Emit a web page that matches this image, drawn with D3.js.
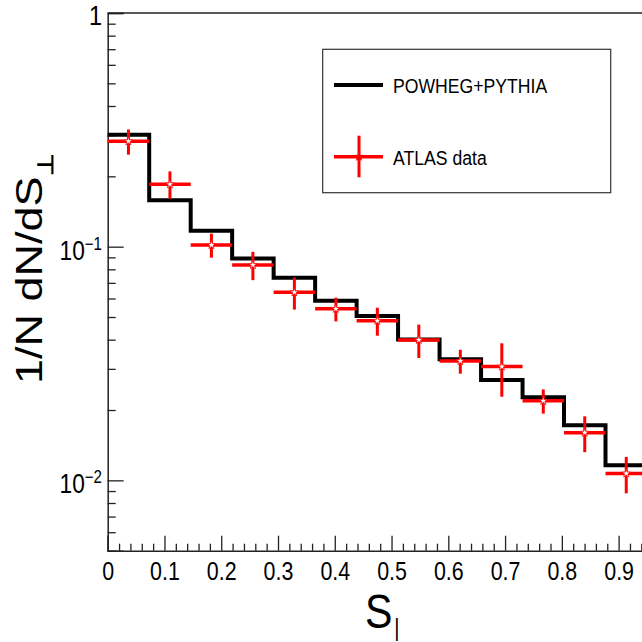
<!DOCTYPE html>
<html>
<head>
<meta charset="utf-8">
<script src="https://cdn.jsdelivr.net/npm/d3@7"></script>
<style>
  body { margin: 0; background: #fff; }
  svg { display: block; font-family: "Liberation Sans", Arial, Helvetica, sans-serif; }
</style>
</head>
<body>
<script>
// bin edges in S_| (13 bins)
var binEdges = [0, 0.0731, 0.1462, 0.2192, 0.2923, 0.3654, 0.4385, 0.5115, 0.5846, 0.6577, 0.7308, 0.8038, 0.8769, 0.95];

// POWHEG+PYTHIA histogram
var mcValues = [0.301, 0.158, 0.117, 0.089, 0.0737, 0.0587, 0.0505, 0.0401, 0.0330, 0.0269, 0.0227, 0.0172, 0.0116];

// ATLAS data points and errors
var dataValues = [0.2825, 0.185, 0.1017, 0.0835, 0.0638, 0.0542, 0.0482, 0.0399, 0.0324, 0.0307, 0.0219, 0.0160, 0.0107];
var dataErrors = [0.035, 0.025, 0.012, 0.0116, 0.010, 0.0063, 0.0066, 0.0065, 0.0038, 0.0079, 0.0026, 0.0028, 0.0019];

// axis ticks
var xMajorTicks = [0, 0.1, 0.2, 0.3, 0.4, 0.5, 0.6, 0.7, 0.8, 0.9];
var yMajorTicks = [1, 0.1, 0.01];
var yTickLabels = [{base: "1", exp: ""}, {base: "10", exp: "\u22121"}, {base: "10", exp: "\u22122"}];

var legendLabels = ["POWHEG+PYTHIA", "ATLAS data"];

// text in the picture is a bit narrow
var squish = 0.84;

var svgWidth = 642;
var svgHeight = 642;

var frame = { left: 107.7, top: 13, bottom: 550.7, right: 647 };

var svg = d3.select("body")
  .append("svg")
  .attr("width", svgWidth)
  .attr("height", svgHeight);

var xScale = d3.scaleLinear()
  .domain([0, 0.95])
  .range([frame.left, frame.right]);

var yScale = d3.scaleLog()
  .domain([0.005, 1])
  .range([frame.bottom, frame.top]);

// minor ticks
var xMinorTicks = d3.range(0, 48).map(i => i / 50).filter(v => Math.round(v * 50) % 5 !== 0);
var yMinorTicks = [];
[0.001, 0.01, 0.1].forEach(function(dec) {
  for (var k = 2; k <= 9; k++) {
    var v = dec * k;
    if (v >= 0.005 && v < 1) yMinorTicks.push(v);
  }
});

// x axis (ticks point into the plot)
var bottomMajor = d3.axisBottom(xScale)
  .tickValues(xMajorTicks)
  .tickSize(-15)
  .tickPadding(11)
  .tickFormat(d => d === 0 ? "0" : d3.format(".1f")(d));

var bottomMinor = d3.axisBottom(xScale)
  .tickValues(xMinorTicks)
  .tickSize(-7)
  .tickFormat("");

var xAxisG = svg.append("g")
  .attr("transform", `translate(0, ${frame.bottom})`)
  .call(bottomMajor);

svg.append("g")
  .attr("transform", `translate(0, ${frame.bottom})`)
  .call(bottomMinor)
  .select(".domain").remove();

xAxisG.selectAll("text")
  .attr("font-size", 25.5)
  .attr("fill", "#000")
  .attr("font-family", "Liberation Sans, Arial, sans-serif")
  .attr("transform", `scale(${squish}, 1)`);

// y axis
var leftMajor = d3.axisLeft(yScale)
  .tickValues(yMajorTicks)
  .tickSize(-16)
  .tickFormat("");

var leftMinor = d3.axisLeft(yScale)
  .tickValues(yMinorTicks)
  .tickSize(-8)
  .tickFormat("");

svg.append("g")
  .attr("transform", `translate(${frame.left}, 0)`)
  .call(leftMajor);

svg.append("g")
  .attr("transform", `translate(${frame.left}, 0)`)
  .call(leftMinor)
  .select(".domain").remove();

svg.selectAll(".domain").attr("stroke", "#222").attr("stroke-width", 1.5);
svg.selectAll(".tick line").attr("stroke", "#222").attr("stroke-width", 1.3);

// top frame line
svg.append("line")
  .attr("x1", frame.left).attr("x2", frame.right)
  .attr("y1", frame.top).attr("y2", frame.top)
  .attr("stroke", "#222").attr("stroke-width", 1.5);

// y tick labels with exponents
yMajorTicks.forEach(function(v, i) {
  var lab = yTickLabels[i];
  var g = svg.append("g")
    .attr("transform", `translate(102, ${yScale(v) + (lab.exp ? 13 : 11.5)}) scale(${squish}, 1)`);
  var t = g.append("text")
    .attr("text-anchor", "end")
    .attr("font-size", lab.exp ? 27 : 28)
    .attr("fill", "#000");
  t.append("tspan").text(lab.base);
  if (lab.exp) {
    t.append("tspan")
      .attr("font-size", 18)
      .attr("dy", -10)
      .text(lab.exp);
  }
});

// MC histogram as a step line
var stepPts = [];
mcValues.forEach(function(v, i) {
  stepPts.push([xScale(binEdges[i]), yScale(v)]);
  stepPts.push([xScale(binEdges[i + 1]), yScale(v)]);
});

svg.append("path")
  .attr("d", d3.line()(stepPts))
  .attr("fill", "none")
  .attr("stroke", "#000")
  .attr("stroke-width", 4)
  .attr("stroke-linejoin", "miter");

// ATLAS data: bin-wide horizontal bar, vertical error, star marker
var pts = svg.append("g").selectAll("g")
  .data(dataValues)
  .enter()
  .append("g");

pts.append("line")
  .attr("x1", (d, i) => xScale(binEdges[i]))
  .attr("x2", (d, i) => xScale(binEdges[i + 1]))
  .attr("y1", d => yScale(d))
  .attr("y2", d => yScale(d))
  .attr("stroke", "#ff0000")
  .attr("stroke-width", 3.5);

pts.append("line")
  .attr("x1", (d, i) => xScale((binEdges[i] + binEdges[i + 1]) / 2))
  .attr("x2", (d, i) => xScale((binEdges[i] + binEdges[i + 1]) / 2))
  .attr("y1", (d, i) => yScale(d + dataErrors[i]))
  .attr("y2", (d, i) => yScale(d - dataErrors[i]))
  .attr("stroke", "#ff0000")
  .attr("stroke-width", 3);

pts.append("path")
  .attr("d", d3.symbol(d3.symbolStar, 22))
  .attr("transform", (d, i) => `translate(${xScale((binEdges[i] + binEdges[i + 1]) / 2)}, ${yScale(d)})`)
  .attr("fill", "#fff")
  .attr("stroke", "#ff0000")
  .attr("stroke-width", 0.8);

// legend
var legend = svg.append("g");

legend.append("rect")
  .attr("x", 322.7).attr("y", 49.3)
  .attr("width", 288).attr("height", 143.4)
  .attr("fill", "#fff")
  .attr("stroke", "#333")
  .attr("stroke-width", 1.2);

legend.append("line")
  .attr("x1", 334).attr("x2", 383)
  .attr("y1", 85).attr("y2", 85)
  .attr("stroke", "#000").attr("stroke-width", 4);

legend.append("line")
  .attr("x1", 334).attr("x2", 383)
  .attr("y1", 156.7).attr("y2", 156.7)
  .attr("stroke", "#ff0000").attr("stroke-width", 3.5);

legend.append("line")
  .attr("x1", 359).attr("x2", 359)
  .attr("y1", 135.7).attr("y2", 177.3)
  .attr("stroke", "#ff0000").attr("stroke-width", 3);

legend.append("path")
  .attr("d", d3.symbol(d3.symbolStar, 22))
  .attr("transform", "translate(359, 156.7)")
  .attr("fill", "#ff0000")
  .attr("stroke", "#ff0000")
  .attr("stroke-width", 0.8);

[93.3, 165].forEach(function(yb, i) {
  legend.append("text")
    .attr("transform", `translate(393, ${yb}) scale(${squish}, 1)`)
    .attr("font-size", 21)
    .attr("fill", "#000")
    .text(legendLabels[i]);
});

// x axis title S_|
var xTitle = svg.append("text")
  .attr("transform", `translate(365, 628) scale(${squish}, 1)`)
  .attr("font-size", 49)
  .attr("fill", "#000");
xTitle.append("tspan").text("S");
xTitle.append("tspan").attr("font-size", 24).attr("dy", 8).attr("dx", 2).text("|");

// y axis title 1/N dN/dS_perp
var yTitle = svg.append("text")
  .attr("transform", `translate(42, 384) scale(${squish}, 1) rotate(-90)`)
  .attr("font-size", 45)
  .attr("fill", "#000");
yTitle.append("tspan").text("1/N dN/dS");
yTitle.append("tspan").attr("font-size", 26).attr("dy", 13).attr("font-weight", "bold").text("\u22A5");
</script>
</body>
</html>
